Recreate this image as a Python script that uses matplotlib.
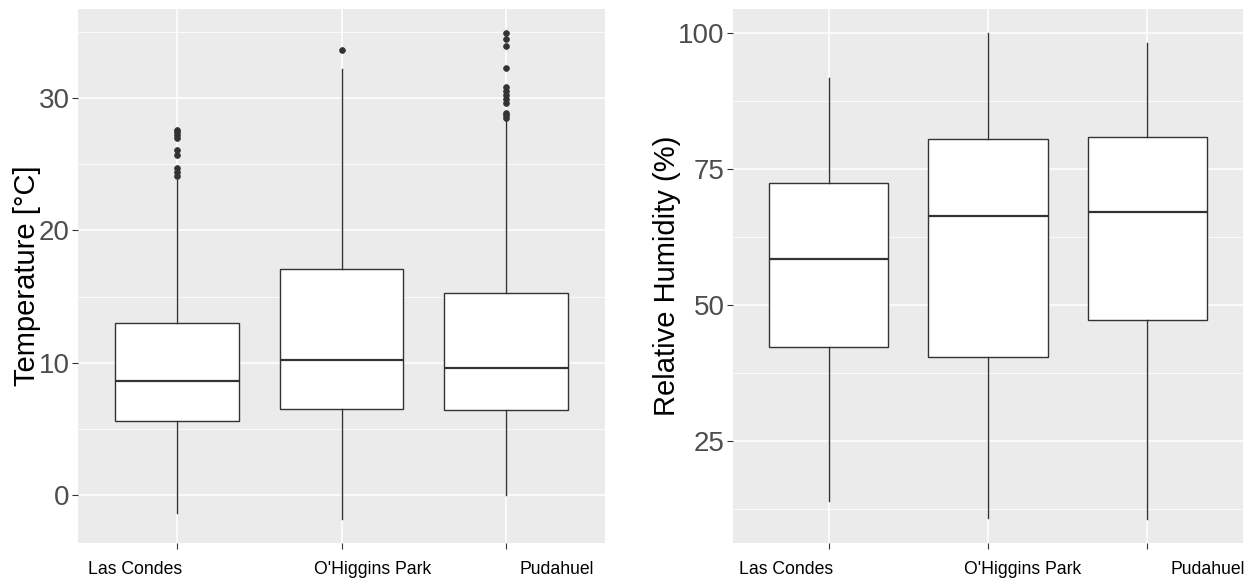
import matplotlib.pyplot as plt
import matplotlib.transforms as mtransforms
import numpy as np

plt.rcParams["font.family"] = ["Liberation Sans", "DejaVu Sans"]

stations = ["Las Condes", "O'Higgins Park", "Pudahuel"]

# temperature summary per station (degC)
temp_q1 = [5.6, 6.5, 6.4]
temp_med = [8.6, 10.2, 9.6]
temp_q3 = [13.0, 17.1, 15.3]
temp_lo = [-1.35, -1.8, 0.0]
temp_hi = [23.8, 32.2, 28.4]
temp_fliers = [
    [24.1, 24.4, 24.7, 25.7, 26.1, 27.0, 27.2, 27.4, 27.6],
    [33.6],
    [28.5, 28.7, 28.9, 29.6, 29.9, 30.2, 30.5, 30.8, 32.3, 33.9, 34.5, 34.9],
]

# relative humidity summary per station (%)
rh_q1 = [42.3, 40.5, 47.3]
rh_med = [58.4, 66.4, 67.0]
rh_q3 = [72.3, 80.5, 80.9]
rh_lo = [13.9, 10.8, 10.7]
rh_hi = [91.6, 99.9, 98.2]

GRAY20 = "#333333"


def box_stats(q1, med, q3, lo, hi, fliers=None):
    stats = []
    for i in range(len(q1)):
        stats.append({
            "q1": q1[i], "med": med[i], "q3": q3[i],
            "whislo": lo[i], "whishi": hi[i],
            "fliers": np.array(fliers[i]) if fliers else np.array([]),
        })
    return stats


def style_axes(ax, ylabel, yticks, minor, ylim, label_shift):
    ax.set_facecolor("#EBEBEB")
    for s in ax.spines.values():
        s.set_visible(False)
    ax.set_xlim(0.4, 3.6)
    ax.set_ylim(*ylim)
    ax.set_yticks(yticks)
    ax.set_yticks(minor, minor=True)
    ax.grid(True, which="major", color="white", lw=1.1)
    ax.grid(True, which="minor", axis="y", color="white", lw=0.55)
    ax.set_axisbelow(True)
    ax.tick_params(axis="y", which="major", labelsize=20, labelcolor="#4D4D4D",
                   color=GRAY20, length=4, width=0.8, pad=2)
    ax.tick_params(which="minor", length=0)
    ax.tick_params(axis="x", labelsize=12.7, labelcolor="black",
                   color=GRAY20, length=4, width=0.8, pad=9)
    ax.set_xticks([1, 2, 3])
    ax.set_xticklabels(stations)
    ax.set_ylabel(ylabel, fontsize=21, labelpad=-2)
    # nudge the station names sideways
    for lab, (ha, dx) in zip(ax.get_xticklabels(), label_shift):
        lab.set_ha(ha)
        off = mtransforms.ScaledTranslation(dx / 100, 0, ax.figure.dpi_scale_trans)
        lab.set_transform(lab.get_transform() + off)


def draw_boxes(ax, stats):
    ax.bxp(stats, positions=[1, 2, 3], widths=0.75, patch_artist=True,
           showcaps=False,
           boxprops=dict(facecolor="white", edgecolor=GRAY20, lw=1.0),
           medianprops=dict(color=GRAY20, lw=1.6),
           whiskerprops=dict(color=GRAY20, lw=1.0),
           flierprops=dict(marker="o", markersize=4.2, markerfacecolor=GRAY20,
                           markeredgecolor=GRAY20, markeredgewidth=0.5))


fig = plt.figure(figsize=(12.58, 5.84), dpi=100)
ax1 = fig.add_axes([78 / 1258, 41 / 584, 527 / 1258, 534 / 584])
ax2 = fig.add_axes([733 / 1258, 41 / 584, 510 / 1258, 534 / 584])

draw_boxes(ax1, box_stats(temp_q1, temp_med, temp_q3, temp_lo, temp_hi, temp_fliers))
style_axes(ax1, "Temperature [°C]", [0, 10, 20, 30], [5, 15, 25, 35],
           (-3.63, 36.73), [("right", 5), ("center", 31), ("left", 13)])

draw_boxes(ax2, box_stats(rh_q1, rh_med, rh_q3, rh_lo, rh_hi))
style_axes(ax2, "Relative Humidity (%)", [25, 50, 75, 100],
           [12.5, 37.5, 62.5, 87.5], (6.24, 104.36),
           [("right", 5), ("center", 35), ("left", 23)])

fig.savefig("out.png", dpi=100, facecolor="white")
